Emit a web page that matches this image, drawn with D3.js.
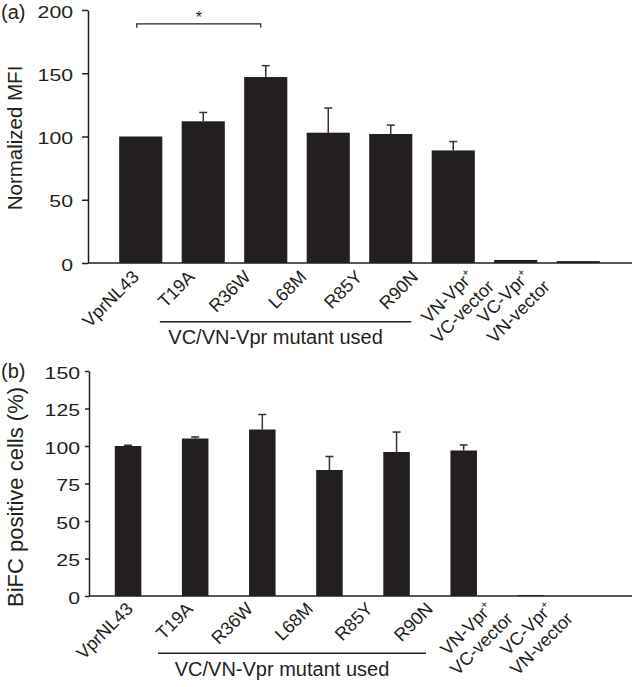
<!DOCTYPE html>
<html><head><meta charset="utf-8">
<script src="https://cdn.jsdelivr.net/npm/d3@7"></script>
<style>
body{margin:0;background:#fff}
svg{display:block}
text{font-family:"Liberation Sans",Arial,Helvetica,sans-serif;fill:#231f20}
</style>
</head><body>
<svg id="chart" width="635" height="687"></svg>
<script>
// ---------- data ----------
const categories = ["VprNL43","T19A","R36W","L68M","R85Y","R90N","VN-Vpr+/VC-vector","VC-Vpr+/VN-vector"];
const labelMain   = ["VprNL43","T19A","R36W","L68M","R85Y","R90N","VN-Vpr","VC-Vpr"];
const labelSup    = ["","","","","","","+","+"];
const labelSecond = ["","","","","","","VC-vector","VN-vector"];
const groupMembers = ["T19A","R36W","L68M","R85Y","R90N"];
const groupLabel = "VC/VN-Vpr mutant used";

const mfiValues = [100,112,147,103,102,89,2.4,1.5];
const mfiErrors = [0,7,9,19.5,7,7,0,0];
const mfiTicks  = [0,50,100,150,200];

const bifcValues = [100,105,111,84,96,97,0.6,0];
const bifcErrors = [0.5,1,10,9,13.3,3.7,0,0];
const bifcTicks  = [0,25,50,75,100,125,150];

const sigPair = ["VprNL43","R36W"];
const sigLevel = 189;
const sigMark = "*";

const INK = "#231f20";
const svg = d3.select("#chart");

function panel(cfg){
  const g = svg.append("g");
  const y = d3.scaleLinear().domain(cfg.domain).range([cfg.y0, cfg.y1]);
  const x = d3.scaleBand().domain(categories).range(cfg.xr)
              .paddingInner(cfg.pad).paddingOuter(cfg.pad/2);
  const lx = d3.scalePoint().domain(categories).range(cfg.lr);
  const bw = x.bandwidth();

  // y axis
  const ya = g.append("g").attr("transform",`translate(${cfg.ax},0)`)
    .call(d3.axisLeft(y).tickValues(cfg.ticks).tickSizeOuter(0).tickSizeInner(cfg.tick).tickFormat(d3.format("d")));
  ya.selectAll("path,line").attr("stroke",INK).attr("stroke-width",1.5);
  ya.selectAll("text").attr("font-size",17).attr("fill",INK)
    .attr("transform","scale(1.25,1)").attr("x",-cfg.tpad/1.25).attr("dy","0.42em");

  // x axis line
  g.append("line").attr("x1",cfg.ax).attr("x2",cfg.xend)
    .attr("y1",y(0)).attr("y2",y(0)).attr("stroke",INK).attr("stroke-width",1.5);

  // bars
  g.selectAll("rect.bar").data(categories).join("rect").attr("class","bar")
    .attr("x",d=>x(d)).attr("width",bw)
    .attr("y",(d,i)=>y(cfg.values[i]))
    .attr("height",(d,i)=>y(0)-y(cfg.values[i]))
    .attr("fill",INK);

  // error bars
  categories.forEach((c,i)=>{
    const e = cfg.errors[i]; if(!e) return;
    const cx = x(c)+bw/2, top = y(cfg.values[i]+e);
    g.append("line").attr("x1",cx).attr("x2",cx).attr("y1",y(cfg.values[i])).attr("y2",top)
      .attr("stroke","#333").attr("stroke-width",1.5);
    g.append("line").attr("x1",cx-4).attr("x2",cx+4).attr("y1",top).attr("y2",top)
      .attr("stroke","#333").attr("stroke-width",1.5);
  });

  // category labels (rotated)
  categories.forEach((c,i)=>{
    const tr = `translate(${lx(c)},${cfg.ly}) rotate(-45)`;
    let supW = 0;
    if(labelSup[i]){
      const s = g.append("text").attr("transform",tr).attr("font-size",11)
        .attr("text-anchor","end").attr("y",-7).text(labelSup[i]);
      supW = s.node().getComputedTextLength();
    }
    const t1 = g.append("text").attr("transform",tr).attr("text-anchor","end")
      .attr("font-size",18).attr("x",-supW).text(labelMain[i]);
    if(labelSecond[i]){
      const w = t1.node().getComputedTextLength() + supW;
      g.append("text").attr("transform",tr).attr("text-anchor","middle").attr("font-size",18)
        .attr("x",-w/2).attr("y",21).text(labelSecond[i]);
    }
  });

  // group line + label
  const gx1 = lx(groupMembers[0]) - 36, gx2 = lx(groupMembers[groupMembers.length-1]) - 8;
  g.append("line").attr("x1",gx1).attr("x2",gx2).attr("y1",cfg.gy).attr("y2",cfg.gy)
    .attr("stroke",INK).attr("stroke-width",1.5);
  g.append("text").attr("x",(gx1+gx2)/2-10).attr("y",cfg.gy+22.5)
    .attr("text-anchor","middle").attr("font-size",20).text(groupLabel);

  // y title
  g.append("text").attr("transform",`translate(${cfg.tx},${cfg.ty}) rotate(-90)`)
    .attr("text-anchor","middle").attr("font-size",cfg.tfs).text(cfg.title);

  // panel letter
  g.append("text").attr("x",1).attr("y",cfg.py).attr("font-size",20).text(cfg.letter);

  return {g,x,y,bw};
}

const A = panel({
  domain:[0,200], y0:263, y1:10, ticks:mfiTicks, values:mfiValues, errors:mfiErrors,
  xr:[109.5,609.5], pad:0.31, lr:[140,531], ly:278, ax:88, xend:632, tick:6, tpad:15,
  gy:321.7, title:"Normalized MFI", tx:22, ty:138, tfs:20.5, letter:"(a)", py:19
});

// significance bracket
{
  const {g,x,y,bw} = A;
  const x1 = x(sigPair[0])+bw/2-4, x2 = x(sigPair[1])+bw/2-5;
  const yb = y(sigLevel), yt = y(sigLevel-3);
  g.append("path").attr("d",`M${x1},${yt}V${yb}H${x2}V${yt}`)
    .attr("fill","none").attr("stroke",INK).attr("stroke-width",1.2);
  g.append("text").attr("x",(x1+x2)/2).attr("y",yb-1).attr("text-anchor","middle")
    .attr("font-size",16).text(sigMark);
}

panel({
  domain:[0,150], y0:596, y1:371, ticks:bifcTicks, values:bifcValues, errors:bifcErrors,
  xr:[94.5,631.5], pad:0.605, lr:[134,554], ly:610, ax:89, xend:632, tick:4, tpad:9,
  gy:653.3, title:"BiFC positive cells (%)", tx:23, ty:497, tfs:22, letter:"(b)", py:378
});
</script>
</body></html>
